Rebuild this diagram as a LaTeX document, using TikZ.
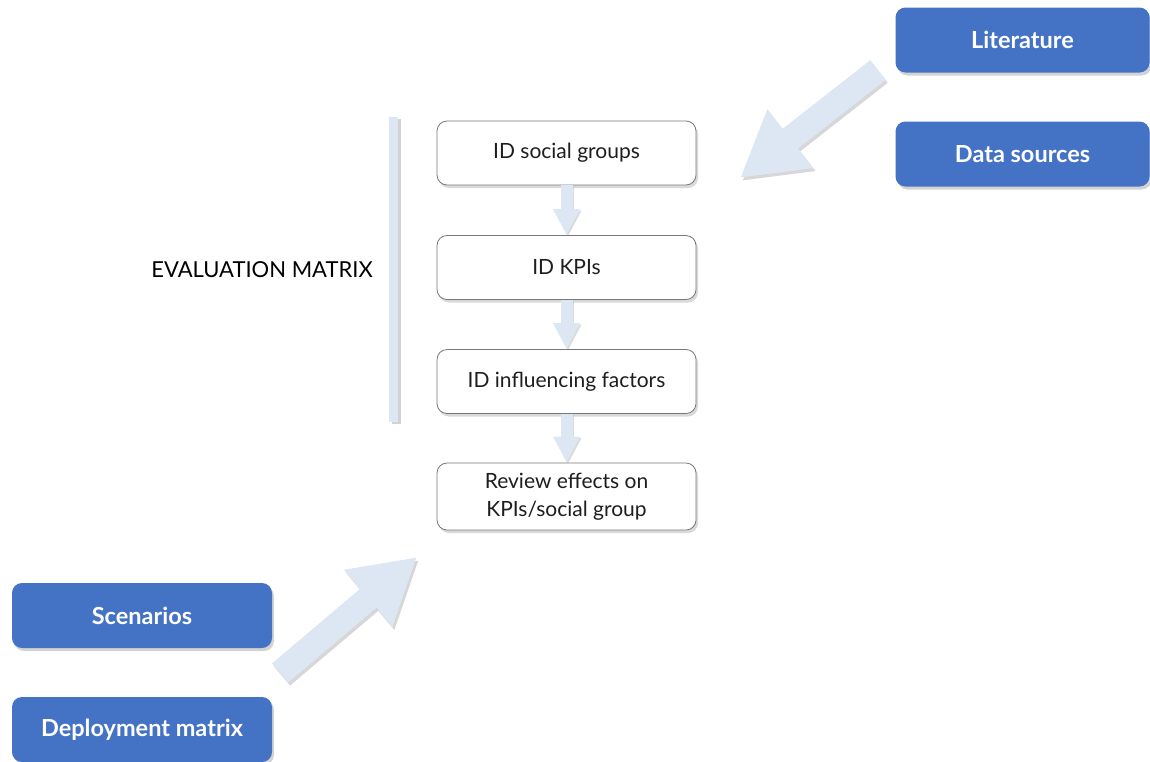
\documentclass[tikz,border=0pt]{standalone}
\usepackage{fontspec}
\setmainfont{Lato}
\usetikzlibrary{arrows.meta,shadows}
\definecolor{boxblue}{RGB}{68,114,196}
\definecolor{arrowblue}{RGB}{221,231,243}
\definecolor{boxline}{RGB}{120,120,120}
\definecolor{txt}{RGB}{30,30,30}
\begin{document}
\begin{tikzpicture}[x=1pt,y=-1pt,
  bluebox/.style={fill=boxblue, rounded corners=10pt, minimum width=254pt, minimum height=65pt,
    text=white, font=\bfseries\fontsize{23.5}{26}\selectfont,
    drop shadow={shadow xshift=2pt, shadow yshift=-3pt, opacity=0.35}},
  stepbox/.style={draw=boxline, line width=0.8pt, fill=white, rounded corners=10pt,
    minimum width=259pt, minimum height=64pt, align=center, text=txt,
    font=\fontsize{21}{28}\selectfont,
    drop shadow={shadow xshift=2pt, shadow yshift=-3pt, opacity=0.3}},
  downarrow/.style={draw=arrowblue, line width=12pt, -{Triangle[length=26pt, width=25pt]}},
  bigarrow/.style={draw=arrowblue, line width=25pt, -{Triangle[length=64pt, width=70pt]}},
  bigshadow/.style={draw=black!35, opacity=0.45, line width=25pt, -{Triangle[length=64pt, width=70pt]}},
  smallshadow/.style={draw=black!35, opacity=0.4, line width=12pt, -{Triangle[length=26pt, width=25pt]}}
]
\useasboundingbox (0,0) rectangle (1150,761);

% blue source boxes
\node[bluebox] (lit) at (1022.5,40) {Literature};
\node[bluebox] (data) at (1022.5,154) {Data sources};
\node[bluebox, minimum width=260pt] (scen) at (142,615.5) {Scenarios};
\node[bluebox, minimum width=260pt] (depl) at (142,729.5) {Deployment matrix};

% vertical bar
\fill[black!35, opacity=0.5] (392,119) rectangle (401,424);
\fill[arrowblue] (389,117) rectangle (398,422);

% label
\node[text=black, font=\fontsize{22}{26}\selectfont] (evm) at (262,270) {EVALUATION MATRIX};

% step boxes
\node[stepbox] (s1) at (566.5,153) {ID social groups};
\node[stepbox] (s2) at (566.5,267.5) {ID KPIs};
\node[stepbox] (s3) at (566.5,381.5) {ID influencing factors};
\node[stepbox, minimum height=67pt] (s4) at (566.5,496.5) {Review effects on\\KPIs/social group};

% small arrows between steps
\begin{scope}[transform canvas={shift={(1.5pt,-1.5pt)}}]
  \draw[smallshadow] (s1.south) -- (s2.north);
  \draw[smallshadow] (s2.south) -- (s3.north);
  \draw[smallshadow] (s3.south) -- (s4.north);
\end{scope}
\draw[downarrow] (s1.south) -- (s2.north);
\draw[downarrow] (s2.south) -- (s3.north);
\draw[downarrow] (s3.south) -- (s4.north);

% big arrows
\coordinate (litTail) at (878,70);
\coordinate (litTip) at (740,178);
\coordinate (scenTail) at (280,673);
\coordinate (scenTip) at (417,557);
\begin{scope}[transform canvas={shift={(2pt,-3pt)}}]
  \draw[bigshadow] (litTail) -- (litTip);
  \draw[bigshadow] (scenTail) -- (scenTip);
\end{scope}
\draw[bigarrow] (litTail) -- (litTip);
\draw[bigarrow] (scenTail) -- (scenTip);
\end{tikzpicture}
\end{document}
